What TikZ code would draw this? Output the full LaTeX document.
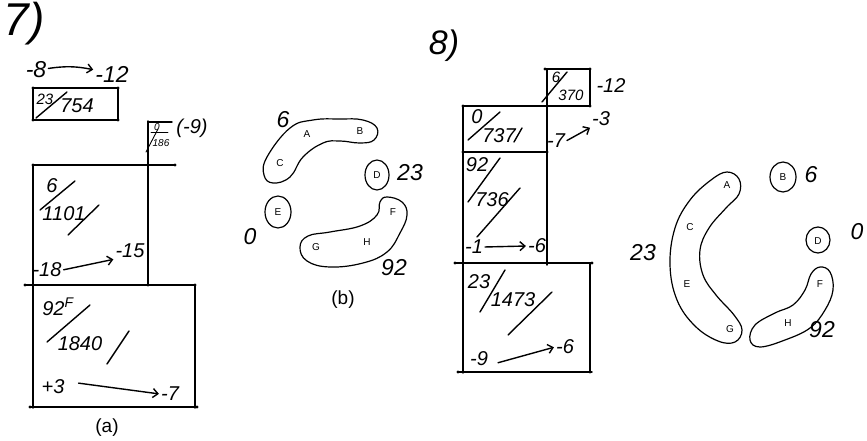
\documentclass[tikz,border=0pt]{standalone}
\usepackage{fontspec}
\setmainfont{Liberation Sans}
\newfontfamily\hand{Liberation Sans}
\usetikzlibrary{arrows.meta}
\begin{document}
\begin{tikzpicture}[x=1pt,y=-1pt,
  pen/.style={line width=1.4pt,line cap=round,line join=round},
  hw/.style={font=\hand\itshape\fontsize{23}{23}\selectfont,inner sep=1pt},
  hws/.style={font=\hand\itshape\fontsize{20}{20}\selectfont,inner sep=1pt},
  hwm/.style={font=\hand\itshape\fontsize{15}{15}\selectfont,inner sep=1pt},
  hwt/.style={font=\hand\itshape\fontsize{10}{10}\selectfont,inner sep=0.5pt},
  lab/.style={font=\fontsize{10}{10}\selectfont,inner sep=0pt},
  captxt/.style={font=\fontsize{19}{19}\selectfont},
  arr/.style={pen,-{Straight Barb[length=5pt,width=9pt]},shorten <=1pt,shorten >=1pt},
  dot/.style={circle,fill,inner sep=0pt,minimum size=3.2pt}]
\useasboundingbox (0,0) rectangle (867,441);

% ================= Figure 7 =================
\node[font=\hand\itshape\fontsize{46}{46}\selectfont] (t7) at (24,24) {7)};
\node[hw] (a8) at (36,70) {-8};
\node[hw] (a12) at (112,74) {-12};
\draw[arr] (a8) to[bend left=10] (a12);

% small top box
\draw[pen] (33,88) rectangle (118,120);
\foreach \p in {(33,88),(118,88),(33,120),(118,120)} \node[dot] at \p {};
\draw[pen] (36,118) -- (67,92);
\node[hwm] (f23) at (45,99) {23};
\node[hws] (f754) at (77,106) {754};

% big frame
\draw[pen] (33,165) -- (175,165);
\draw[pen] (148,121) -- (148,285);
\draw[pen] (148,122) -- (172,122);
\draw[pen] (33,165) -- (33,408);
\draw[pen] (25,285) -- (195,285);
\draw[pen] (195,285) -- (195,408);
\draw[pen] (30,407) -- (197,407);
\foreach \p in {(33,165),(175,165),(25,285),(195,285),(30,407),(197,407),(148,285)} \node[dot] at \p {};
\node[hwt] (z0) at (157,127) {0};
\draw[pen,line width=0.9pt] (151,132) -- (168,132);
\node[hwt] (z186) at (161,143) {186};
\draw[pen,line width=0.9pt] (146,152) -- (158,129);
\node[hws] (m9) at (192,128) {(-9)};

% upper cell
\node[hws] (u6) at (52,186) {6};
\draw[pen] (40,210) -- (75,181);
\node[hws] (u1101) at (64,214) {1101};
\draw[pen] (68,235) -- (99,205);
\node[hws] (u18) at (47,270) {-18};
\node[hws] (u15) at (130,251) {-15};
\draw[arr] (u18.east) -- (u15.south west);

% lower cell
\node[hws] (l92) at (58,307) {92\textsuperscript{F}};
\draw[pen] (47,342) -- (90,305);
\node[hws] (l1840) at (80,344) {1840};
\draw[pen] (107,364) -- (129,331);
\node[hws] (l3) at (53,387) {+3};
\node[hws] (l7) at (170,394) {-7};
\draw[arr] (l3.east) ++(12,-4) coordinate (s3) (s3) -- (l7.west);

\node[captxt] (ca) at (107,428) {(a)};

% ================= Figure (b) =================
\draw[pen,line width=1.2pt] plot[smooth cycle,tension=0.7] coordinates
  {(267,157) (290,128) (313,120) (340,119) (363,120) (377,128) (374,140) (360,143) (340,141) (323,143) (303,157) (290,177) (273,183) (264,175)};
\node[lab] (bA) at (307,134) {A};
\node[lab] (bB) at (360,131) {B};
\node[lab] (bC) at (280,163) {C};
\node[hw] (b6) at (283,120) {6};

\draw[pen,line width=1.2pt] (377,175) ellipse[x radius=12,y radius=15];
\node[lab] (bD) at (377,175) {D};
\node[hw] (b23) at (410,173) {23};

\draw[pen,line width=1.2pt] (278,212) ellipse[x radius=13,y radius=16];
\node[lab] (bE) at (278,212) {E};
\node[hw] (b0) at (250,237) {0};

\draw[pen,line width=1.2pt] plot[smooth cycle,tension=0.7] coordinates
  {(387,197) (402,202) (407,215) (400,233) (387,252) (363,263) (330,267) (307,261) (300,247) (308,236) (330,232) (360,226) (377,215) (380,202)};
\node[lab] (bF) at (393,212) {F};
\node[lab] (bG) at (316,247) {G};
\node[lab] (bH) at (367,242) {H};
\node[hw] (b92) at (394,268) {92};

\node[captxt] (cb) at (343,300) {(b)};

% ================= Figure 8 =================
\node[font=\hand\itshape\fontsize{34}{34}\selectfont] (t8) at (444,46) {8)};

\draw[pen] (545,69) -- (590,69) -- (590,106);
\draw[pen] (547,69) -- (547,265);
\draw[pen] (463,106) -- (590,106);
\draw[pen] (463,106) -- (463,373);
\draw[pen] (463,152) -- (547,152);
\draw[pen] (455,263) -- (592,263);
\draw[pen] (590,263) -- (590,372);
\draw[pen] (458,372) -- (592,372);
\foreach \p in {(545,69),(590,69),(590,106),(463,106),(463,152),(547,152),(547,106),(547,263),(455,263),(592,263),(458,372),(590,372)} \node[dot] at \p {};

% top small box
\node[hwm] (s6) at (556,77) {6};
\draw[pen] (542,102) -- (567,72);
\node[hwm] (s370) at (571,95) {370};
\node[hws] (s12) at (611,86) {-12};

% 0/737
\node[hws] (c0) at (477,117) {0};
\draw[pen] (468,140) -- (500,112);
\node[hws] (c737) at (499,136) {737};
\draw[pen] (514,142) -- (522,128);
\node[hws] (c7) at (556,141) {-7};
\node[hws] (c3) at (601,119) {-3};
\draw[arr] (c7.east) -- (c3.south west);

% 92/736
\node[hws] (d92) at (477,165) {92};
\draw[pen] (468,202) -- (500,158);
\node[hws] (d736) at (492,200) {736};
\draw[pen] (477,237) -- (520,188);
\node[hws] (d1) at (474,247) {-1};
\node[hws] (d6) at (537,246) {-6};
\draw[arr] (d1.east) -- (d6.west);

% 23/1473
\node[hws] (e23) at (479,282) {23};
\draw[pen] (480,312) -- (505,270);
\node[hws] (e1473) at (513,300) {1473};
\draw[pen] (508,335) -- (552,292);
\node[hws] (e9) at (479,359) {-9};
\node[hws] (e6) at (565,347) {-6};
\draw[arr] (e9.east) ++(8,4) coordinate (s9) (s9) -- (e6.west);

% ================= right ovals =================
\draw[pen,line width=1.2pt] plot[smooth cycle,tension=0.65] coordinates
  {(727,172) (739,179) (739,194) (726,208) (709,228) (700,250) (703,275) (716,295) (734,315) (742,330) (735,342) (718,341) (695,326) (677,300) (670,265) (675,228) (690,200) (711,180)};
\node[lab] (rA) at (727,185) {A};
\node[lab] (rC) at (690,227) {C};
\node[lab] (rE) at (687,284) {E};
\node[lab] (rG) at (730,329) {G};
\node[hw] (r23) at (643,253) {23};

\draw[pen,line width=1.2pt] (783,177) ellipse[x radius=13,y radius=15];
\node[lab] (rB) at (783,177) {B};
\node[hw] (r6) at (811,175) {6};

\draw[pen,line width=1.2pt] (818,240) ellipse[x radius=12,y radius=13];
\node[lab] (rD) at (818,241) {D};
\node[hw] (r0) at (857,232) {0};

\draw[pen,line width=1.2pt] plot[smooth cycle,tension=0.65] coordinates
  {(820,267) (830,272) (833,290) (825,310) (810,328) (785,340) (760,347) (750,340) (755,325) (775,313) (793,305) (805,290) (811,274)};
\node[lab] (rF) at (820,284) {F};
\node[lab] (rH) at (788,323) {H};
\node[hw] (r92) at (822,330) {92};
\end{tikzpicture}
\end{document}
